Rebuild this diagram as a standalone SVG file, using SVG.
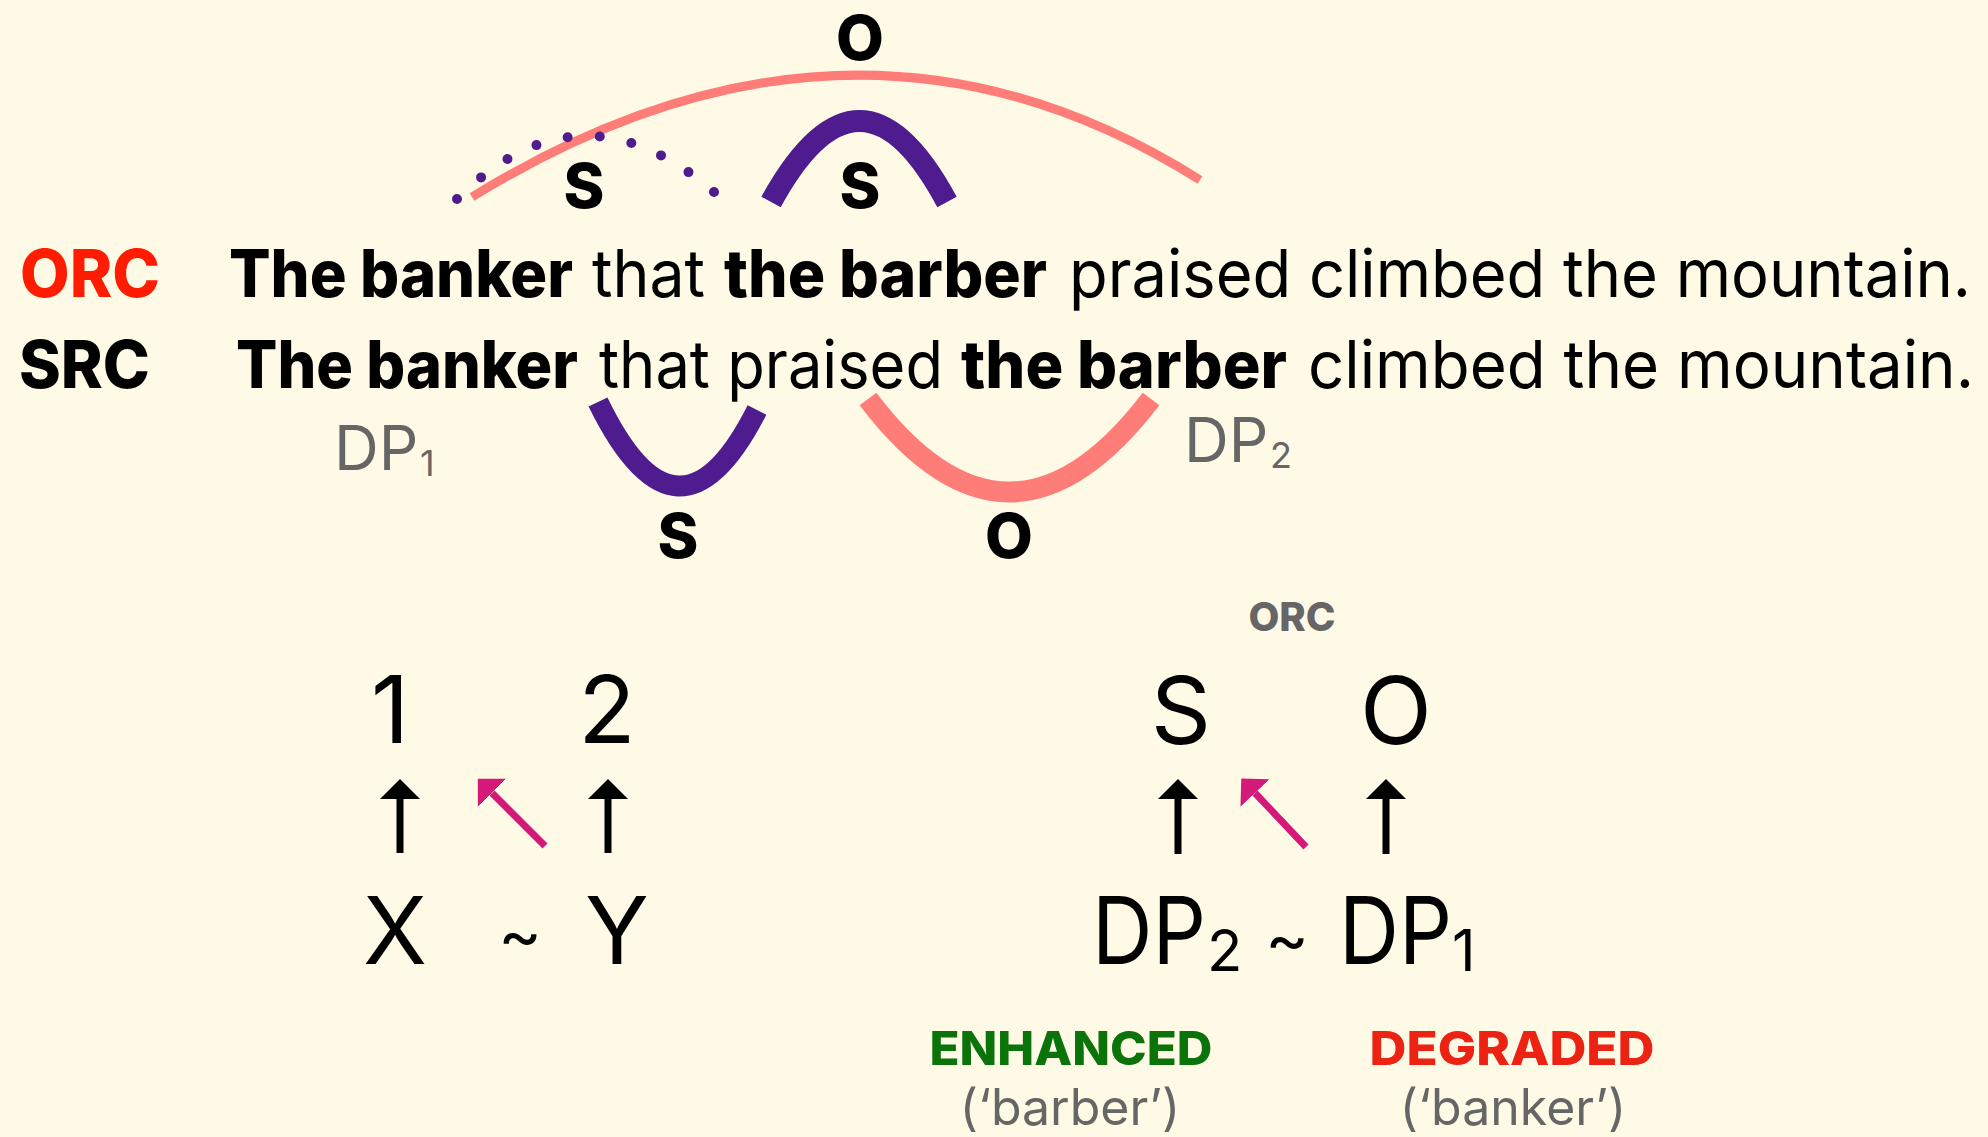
<svg xmlns="http://www.w3.org/2000/svg" width="1988" height="1137" viewBox="0 0 1988 1137">
<defs>
<style>
text{font-family:Inter,"Liberation Sans",sans-serif;}
.reg{font-weight:400;fill:#000;}
.bold{font-weight:800;fill:#000;}
.sent{font-size:66px;}
.lab{font-size:62px;font-weight:800;text-anchor:middle;fill:#000;}
.gray{fill:#666;font-weight:400;}
.big{font-size:94px;font-weight:400;text-anchor:middle;fill:#000;}
.sub{font-size:58px;font-weight:400;fill:#000;}
.tilde{font-size:66px;font-weight:400;text-anchor:middle;fill:#000;}
.pink{fill:none;stroke:#ff7d79;}
.purple{fill:none;stroke:#4f1c8f;}
.arr{fill:none;stroke-width:7;}
</style>
<marker id="headBlack" viewBox="0 0 20 40" refX="0" refY="20" markerWidth="20" markerHeight="40" markerUnits="userSpaceOnUse" orient="auto"><path d="M0,0 L20,20 L0,40 z" fill="#000"/></marker>
<marker id="headPink" viewBox="0 0 20 40" refX="0" refY="20" markerWidth="20" markerHeight="40" markerUnits="userSpaceOnUse" orient="auto"><path d="M0,0 L20,20 L0,40 z" fill="#d4197a"/></marker>
</defs>
<rect width="1988" height="1137" fill="#fffae6"/>

<g id="connectors">
<path id="arc-top-O" class="pink" stroke-width="9" d="M472,197 Q854,-38 1200,180"/>
<path id="arc-top-S-dotted" class="purple" stroke-width="10" stroke-linecap="round" stroke-dasharray="0 1" pathLength="9" d="M457,199 Q580,76.5 714,192"/>
<path id="arc-top-S" class="purple" stroke-width="22" d="M771,202 Q860,40 947,202"/>
<path id="arc-bot-S" class="purple" stroke-width="21" d="M598,402 Q678,566 757,410"/>
<path id="arc-bot-O" class="pink" stroke-width="21" d="M868,399 Q1009,585 1151,399"/>
<path class="arr" stroke="#000" marker-end="url(#headBlack)" d="M400,853 L400,799"/>
<path class="arr" stroke="#000" marker-end="url(#headBlack)" d="M608,853 L608,799"/>
<path class="arr" stroke="#d4197a" marker-end="url(#headPink)" d="M545,846 L492,793"/>
<path class="arr" stroke="#000" marker-end="url(#headBlack)" d="M1178,854 L1178,799"/>
<path class="arr" stroke="#000" marker-end="url(#headBlack)" d="M1386,854 L1386,799"/>
<path class="arr" stroke="#d4197a" marker-end="url(#headPink)" d="M1306,847 L1255,793"/>
</g>

<g id="arc-labels">
<text class="lab" x="860" y="60">O</text>
<text class="lab" x="584" y="208">S</text>
<text class="lab" x="860" y="208">S</text>
<text class="lab" x="678" y="558">S</text>
<text class="lab" x="1009" y="558">O</text>
</g>

<g id="orc-line">
<text class="bold sent" x="20" y="297" style="fill:#ff1c00" textLength="140" lengthAdjust="spacingAndGlyphs">ORC</text>
<text class="bold sent" x="229" y="297" textLength="344" lengthAdjust="spacingAndGlyphs">The banker</text>
<text class="reg sent" x="592" y="297" textLength="113" lengthAdjust="spacingAndGlyphs">that</text>
<text class="bold sent" x="724" y="297" textLength="323" lengthAdjust="spacingAndGlyphs">the barber</text>
<text class="reg sent" x="1069" y="297" textLength="902" lengthAdjust="spacingAndGlyphs">praised climbed the mountain.</text>
</g>

<g id="src-line">
<text class="bold sent" x="19" y="388" textLength="131" lengthAdjust="spacingAndGlyphs">SRC</text>
<text class="bold sent" x="236" y="388" textLength="342" lengthAdjust="spacingAndGlyphs">The banker</text>
<text class="reg sent" x="599" y="388" textLength="344" lengthAdjust="spacingAndGlyphs">that praised</text>
<text class="bold sent" x="961" y="388" textLength="326" lengthAdjust="spacingAndGlyphs">the barber</text>
<text class="reg sent" x="1308" y="388" textLength="666" lengthAdjust="spacingAndGlyphs">climbed the mountain.</text>
</g>

<g id="dp1-label">
<text class="gray" x="334" y="470" font-size="62">DP</text>
<text class="gray" x="420" y="476" font-size="36">1</text>
</g>
<g id="dp2-label">
<text class="gray" x="1184" y="462" font-size="62">DP</text>
<text class="gray" x="1270" y="468" font-size="36">2</text>
</g>

<g id="schema-left">
<text class="big" x="390" y="743">1</text>
<text class="big" x="607" y="743">2</text>
<text class="big" x="395" y="964">X</text>
<text class="tilde" x="520" y="958">~</text>
<text class="big" x="617" y="964">Y</text>
</g>

<g id="schema-right">
<text x="1292" y="631" font-size="40" font-weight="800" fill="#666" text-anchor="middle">ORC</text>
<text class="big" x="1181" y="744">S</text>
<text class="big" x="1396" y="744">O</text>
<text class="big" x="1092" y="964" style="text-anchor:start" textLength="114" lengthAdjust="spacingAndGlyphs">DP</text>
<text class="sub" x="1207" y="971">2</text>
<text class="tilde" x="1287" y="962">~</text>
<text class="big" x="1339" y="964" style="text-anchor:start" textLength="113" lengthAdjust="spacingAndGlyphs">DP</text>
<text class="sub" x="1452" y="971">1</text>
</g>

<g id="enhanced">
<text x="1071" y="1065" font-size="47" font-weight="800" fill="#0a730a" text-anchor="middle" textLength="283" lengthAdjust="spacingAndGlyphs">ENHANCED</text>
<text x="1070" y="1125" font-size="50" fill="#666" text-anchor="middle">(‘barber’)</text>
</g>
<g id="degraded">
<text x="1512" y="1065" font-size="47" font-weight="800" fill="#ec2213" text-anchor="middle" textLength="285" lengthAdjust="spacingAndGlyphs">DEGRADED</text>
<text x="1513" y="1125" font-size="50" fill="#666" text-anchor="middle">(‘banker’)</text>
</g>
</svg>
